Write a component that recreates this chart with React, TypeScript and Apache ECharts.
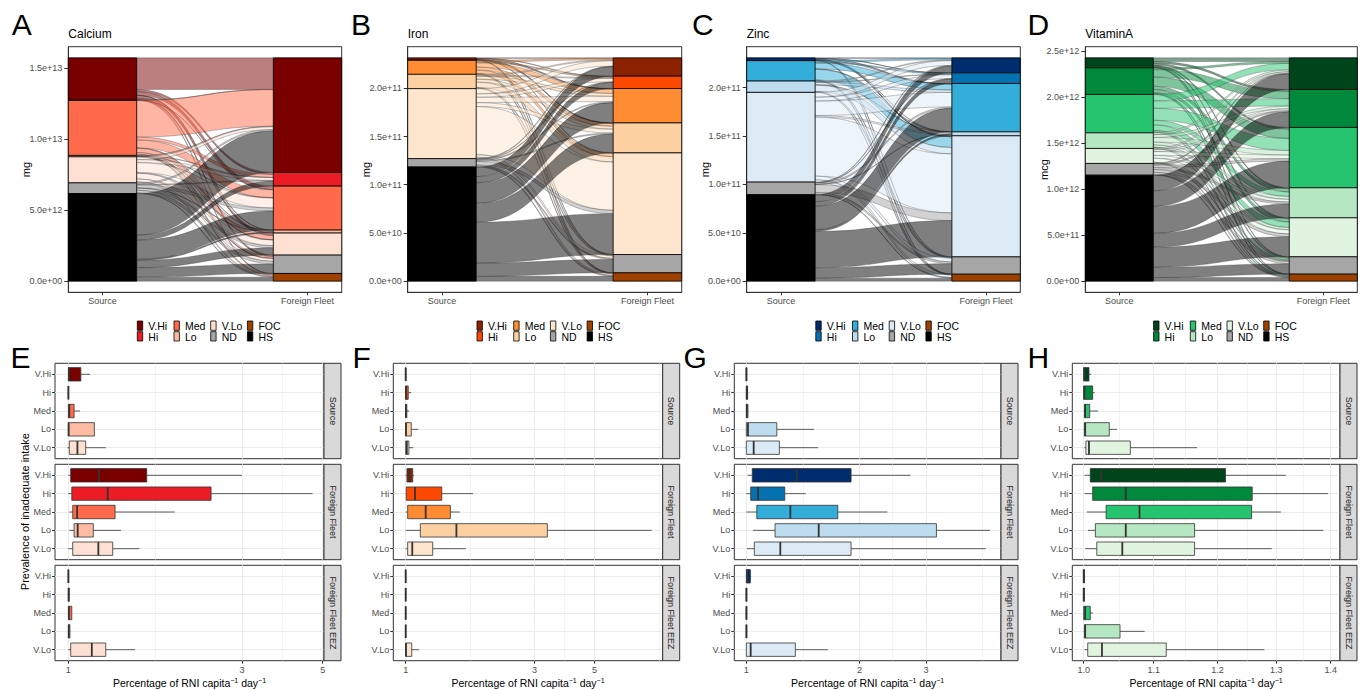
import React, { useEffect, useRef } from 'react';
import * as echarts from 'echarts';

// ---------- categories / labels ----------
const nutrients = ['Calcium', 'Iron', 'Zinc', 'VitaminA'];
const unitLabels = ['mg', 'mg', 'mg', 'mcg'];
const topLetters = ['A', 'B', 'C', 'D'];
const bottomLetters = ['E', 'F', 'G', 'H'];
const strataAxis = ['Source', 'Foreign Fleet'];
const sourceStrata = ['V.Hi', 'Hi', 'Med', 'Lo', 'V.Lo', 'ND', 'HS'];
const fleetStrata = ['V.Hi', 'Hi', 'Med', 'Lo', 'V.Lo', 'ND', 'FOC'];
const legendColumns = [['V.Hi', 'Hi'], ['Med', 'Lo'], ['V.Lo', 'ND'], ['FOC', 'HS']];
const facets = ['Source', 'Foreign Fleet', 'Foreign Fleet EEZ'];
const intakeRows = ['V.Hi', 'Hi', 'Med', 'Lo', 'V.Lo'];

// ---------- colours ----------
const calciumColors = { 'V.Hi': '#7A0000', Hi: '#EC1C24', Med: '#FF6B4A', Lo: '#FDBBA1', 'V.Lo': '#FEE0D2' };
const ironColors = { 'V.Hi': '#8C2300', Hi: '#FF4800', Med: '#FF8C33', Lo: '#FDD0A2', 'V.Lo': '#FEE6CE' };
const zincColors = { 'V.Hi': '#002D6E', Hi: '#0571B0', Med: '#33AED8', Lo: '#BDDCF0', 'V.Lo': '#DCEAF6' };
const vitaminAColors = { 'V.Hi': '#00441B', Hi: '#00893C', Med: '#26C46F', Lo: '#B5E8C2', 'V.Lo': '#E0F4E0' };
const sharedColors = { ND: '#A6A6A6', FOC: '#9E4100', HS: '#000000' };

// ---------- alluvial flows (rows: source stratum V.Hi..HS, cols: fleet stratum V.Hi..FOC) ----------
const calciumUnit = 1e12;
const calciumFlows = [
  [2.22, 0.15, 0.25, 0.02, 0.18, 0.1, 0.05],
  [0.01, 0, 0.01, 0, 0, 0, 0],
  [2.58, 0.2, 0.55, 0.03, 0.3, 0.13, 0.08],
  [0.03, 0.01, 0.03, 0.01, 0.01, 0.01, 0],
  [0.2, 0.2, 0.7, 0.05, 0.4, 0.2, 0.08],
  [0.1, 0.05, 0.2, 0.02, 0.15, 0.18, 0.05],
  [2.92, 0.35, 1.35, 0.08, 0.51, 0.67, 0.28],
];
const ironUnit = 1e10;
const ironFlows = [
  [0.05, 0.03, 0.05, 0.04, 0.05, 0.01, 0.01],
  [0, 0, 0.01, 0.01, 0, 0, 0],
  [0.15, 0.1, 0.45, 0.3, 0.35, 0.05, 0.05],
  [0.1, 0.1, 0.3, 0.3, 0.55, 0.08, 0.05],
  [0.55, 0.35, 0.55, 0.4, 5.0, 0.26, 0.15],
  [0.05, 0.05, 0.1, 0.1, 0.35, 0.12, 0.1],
  [1.0, 0.65, 2.11, 1.96, 4.24, 1.38, 0.5],
];
const zincUnit = 1e10;
const zincFlows = [
  [0.05, 0.03, 0.06, 0.01, 0.1, 0.01, 0.01],
  [0, 0, 0.01, 0, 0.01, 0, 0],
  [0.15, 0.1, 0.6, 0.03, 1.1, 0.08, 0.05],
  [0.08, 0.06, 0.25, 0.02, 0.66, 0.06, 0.04],
  [0.5, 0.4, 1.5, 0.15, 6.1, 0.38, 0.25],
  [0.05, 0.04, 0.15, 0.02, 0.8, 0.18, 0.06],
  [0.72, 0.47, 2.43, 0.18, 3.75, 1.08, 0.31],
];
const vitaminAUnit = 1e11;
const vitaminAFlows = [
  [0.4, 0.2, 0.2, 0.1, 0.1, 0.05, 0.03],
  [0.2, 0.8, 1.0, 0.35, 0.35, 0.12, 0.07],
  [0.7, 0.8, 1.3, 0.5, 0.6, 0.17, 0.1],
  [0.2, 0.3, 0.5, 0.3, 0.25, 0.09, 0.05],
  [0.15, 0.2, 0.4, 0.3, 0.45, 0.08, 0.05],
  [0.08, 0.12, 0.25, 0.2, 0.3, 0.25, 0.07],
  [1.7, 1.7, 2.9, 1.51, 2.18, 1.12, 0.39],
];

// ---------- alluvial y ticks ----------
const calciumYTicks = [0, 5e12, 1e13, 1.5e13];
const ironYTicks = [0, 5e10, 1e11, 1.5e11, 2e11];
const zincYTicks = [0, 5e10, 1e11, 1.5e11, 2e11];
const vitaminAYTicks = [0, 5e11, 1e12, 1.5e12, 2e12, 2.5e12];

// ---------- boxplots [min, q1, median, q3, max], rows V.Hi..V.Lo ----------
const calciumSourceBox = [
  [1.0, 1.0, 1.004, 1.082, 1.147],
  [1.0, 1.0, 1.0, 1.002, 1.004],
  [1.0, 1.0, 1.006, 1.037, 1.077],
  [1.0, 1.0, 1.002, 1.179, 1.179],
  [0.995, 1.006, 1.059, 1.116, 1.267],
];
const calciumFleetBox = [
  [1.0, 1.015, 1.214, 1.642, 3.0],
  [1.0, 1.022, 1.283, 2.467, 4.69],
  [1.006, 1.028, 1.057, 1.344, 1.96],
  [1.006, 1.037, 1.061, 1.171, 1.395],
  [1.0, 1.028, 1.209, 1.324, 1.567],
];
const calciumEezBox = [
  [1.0, 1.0, 1.0, 1.002, 1.003],
  [1.0, 1.0, 1.002, 1.005, 1.008],
  [1.0, 1.0, 1.004, 1.022, 1.022],
  [1.0, 1.0, 1.003, 1.01, 1.012],
  [1.0, 1.015, 1.16, 1.267, 1.525],
];
const ironSourceBox = [
  [1.0, 1.0, 1.0, 1.002, 1.004],
  [1.0, 1.0, 1.003, 1.022, 1.049],
  [1.0, 1.0, 1.002, 1.01, 1.03],
  [1.0, 1.0, 1.003, 1.049, 1.114],
  [1.0, 1.0, 1.01, 1.028, 1.067],
];
const ironFleetBox = [
  [1.0, 1.011, 1.031, 1.062, 1.073],
  [1.0, 1.005, 1.083, 1.36, 1.776],
  [1.0, 1.017, 1.186, 1.464, 1.586],
  [1.0, 1.133, 1.541, 3.345, 8.14],
  [1.0, 1.017, 1.058, 1.259, 1.67],
];
const ironEezBox = [
  [1.0, 1.0, 1.0, 1.001, 1.004],
  [1.0, 1.0, 1.0, 1.001, 1.004],
  [1.0, 1.0, 1.0, 1.001, 1.004],
  [1.0, 1.0, 1.0, 1.001, 1.004],
  [1.0, 1.0, 1.003, 1.053, 1.12],
];
const zincSourceBox = [
  [1.0, 1.0, 1.0, 1.003, 1.005],
  [1.0, 1.0, 1.003, 1.008, 1.012],
  [1.0, 1.0, 1.003, 1.01, 1.012],
  [1.0, 1.0, 1.01, 1.205, 1.513],
  [0.996, 1.0, 1.046, 1.224, 1.551],
];
const zincFleetBox = [
  [1.008, 1.037, 1.361, 1.898, 2.73],
  [1.0, 1.027, 1.074, 1.265, 1.438],
  [1.0, 1.066, 1.309, 1.75, 2.37],
  [1.042, 1.192, 1.557, 3.2, 4.44],
  [1.004, 1.05, 1.231, 1.898, 4.33],
];
const zincEezBox = [
  [1.0, 1.0, 1.005, 1.025, 1.03],
  [1.0, 1.0, 1.0, 1.003, 1.005],
  [1.0, 1.0, 1.0, 1.003, 1.005],
  [1.0, 1.0, 1.0, 1.003, 1.005],
  [1.0, 1.0, 1.027, 1.35, 1.645],
];
const vitaminASourceBox = [
  [1.0, 1.0, 1.001, 1.0072, 1.0104],
  [1.0, 1.0, 1.001, 1.0123, 1.015],
  [1.0, 1.001, 1.002, 1.0082, 1.0197],
  [1.0, 1.001, 1.002, 1.0355, 1.0464],
  [1.001, 1.003, 1.0072, 1.0656, 1.167],
];
const vitaminAFleetBox = [
  [1.001, 1.009, 1.024, 1.213, 1.317],
  [1.001, 1.0123, 1.059, 1.258, 1.395],
  [1.0045, 1.031, 1.079, 1.257, 1.308],
  [1.0059, 1.016, 1.059, 1.163, 1.386],
  [1.002, 1.018, 1.054, 1.163, 1.292],
];
const vitaminAEezBox = [
  [1.0, 1.0, 1.0, 1.001, 1.002],
  [1.0, 1.0, 1.0, 1.001, 1.002],
  [1.0, 1.0, 1.002, 1.009, 1.0127],
  [1.0, 1.001, 1.002, 1.0507, 1.0866],
  [1.001, 1.0055, 1.0252, 1.119, 1.279],
];

// ---------- boxplot x axes (log scale) ----------
const calciumXTicks = [1, 3, 5];
const calciumXMinor = [1.732, 3.873];
const calciumXRange = [0.919, 5.041];
const ironXTicks = [1, 3, 5];
const ironXMinor = [1.732, 3.873, 8.66];
const ironXRange = [0.9, 8.94];
const zincXTicks = [1, 2, 3];
const zincXMinor = [1.414, 2.449, 4.243];
const zincXRange = [0.929, 4.75];
const vitaminAXTicks = [1.0, 1.1, 1.2, 1.3, 1.4];
const vitaminAXMinor = [1.049, 1.149, 1.249, 1.349];
const vitaminAXRange = [0.9846, 1.4178];

const panels = [
  { colors: calciumColors, flows: calciumFlows, unit: calciumUnit, yTicks: calciumYTicks, boxes: [calciumSourceBox, calciumFleetBox, calciumEezBox], xTicks: calciumXTicks, xMinor: calciumXMinor, xRange: calciumXRange, dec: 0 },
  { colors: ironColors, flows: ironFlows, unit: ironUnit, yTicks: ironYTicks, boxes: [ironSourceBox, ironFleetBox, ironEezBox], xTicks: ironXTicks, xMinor: ironXMinor, xRange: ironXRange, dec: 0 },
  { colors: zincColors, flows: zincFlows, unit: zincUnit, yTicks: zincYTicks, boxes: [zincSourceBox, zincFleetBox, zincEezBox], xTicks: zincXTicks, xMinor: zincXMinor, xRange: zincXRange, dec: 0 },
  { colors: vitaminAColors, flows: vitaminAFlows, unit: vitaminAUnit, yTicks: vitaminAYTicks, boxes: [vitaminASourceBox, vitaminAFleetBox, vitaminAEezBox], xTicks: vitaminAXTicks, xMinor: vitaminAXMinor, xRange: vitaminAXRange, dec: 1 },
];

// ---------- layout ----------
const FONT = "'Liberation Sans', Arial, Helvetica, sans-serif";
const NARROW = "'Liberation Sans Narrow', 'Liberation Sans', Arial, sans-serif";
const topGridBoxes = [
  { left: 68.3, width: 273.4 },
  { left: 407.7, width: 274 },
  { left: 746.7, width: 273.6 },
  { left: 1085.3, width: 272 },
];
const TOP_Y = 46.7;
const TOP_H = 245.6;
const STRATUM_W = 1 / 3;
const bottomGridBoxes = [
  { left: 55, width: 269 },
  { left: 393.3, width: 269.4 },
  { left: 734.3, width: 266.7 },
  { left: 1072.3, width: 267.7 },
];
const rowTops = [363.3, 464.3, 565.3];
const ROW_H = 95.4;
const STRIP_W = 17;

function colorOf(pal: Record<string, string>, key: string) {
  return pal[key] || (sharedColors as Record<string, string>)[key];
}

function sci(v: number) {
  const [m, e] = v.toExponential(1).split('e');
  const n = parseInt(e, 10);
  return m + 'e' + (n < 0 ? '-' : '+') + String(Math.abs(n)).padStart(2, '0');
}

function buildAlluvium(flows: number[][], unit: number) {
  const S = flows.map((r) => r.reduce((a, b) => a + b, 0) * unit);
  const D = fleetStrata.map((_, j) => flows.reduce((a, r) => a + r[j], 0) * unit);
  const total = S.reduce((a, b) => a + b, 0);
  const strata: { value: number[]; key: string }[] = [];
  const srcTop: number[] = [];
  const dstTop: number[] = [];
  let cur = total;
  sourceStrata.forEach((s, i) => {
    strata.push({ value: [1, cur - S[i], cur], key: s });
    srcTop[i] = cur;
    cur -= S[i];
  });
  cur = total;
  fleetStrata.forEach((d, j) => {
    strata.push({ value: [2, cur - D[j], cur], key: d });
    dstTop[j] = cur;
    cur -= D[j];
  });
  const srcPos: number[][][] = flows.map(() => []);
  const dstPos: number[][][] = flows.map(() => []);
  flows.forEach((row, i) => {
    let c = srcTop[i];
    row.forEach((v, j) => {
      srcPos[i][j] = [c, c - v * unit];
      c -= v * unit;
    });
  });
  fleetStrata.forEach((_, j) => {
    let c = dstTop[j];
    flows.forEach((row, i) => {
      dstPos[i][j] = [c, c - row[j] * unit];
      c -= row[j] * unit;
    });
  });
  const flowItems: { value: number[]; key: string }[] = [];
  flows.forEach((row, i) => {
    row.forEach((v, j) => {
      if (v > 0) {
        flowItems.push({
          value: [1, srcPos[i][j][0], srcPos[i][j][1], dstPos[i][j][0], dstPos[i][j][1]],
          key: sourceStrata[i],
        });
      }
    });
  });
  return { strata, flowItems, total };
}

function buildOption() {
  const grid: any[] = [];
  const xAxis: any[] = [];
  const yAxis: any[] = [];
  const series: any[] = [];
  const graphic: any[] = [];

  // ---------- top alluvial panels ----------
  panels.forEach((p, i) => {
    const g = topGridBoxes[i];
    const { strata, flowItems, total } = buildAlluvium(p.flows, p.unit);
    grid.push({ left: g.left, top: TOP_Y, width: g.width, height: TOP_H, show: true, borderColor: '#333', borderWidth: 1, backgroundColor: '#fff', containLabel: false, outerBoundsMode: 'none' });
    xAxis.push({
      type: 'value', gridIndex: i, min: 1 - STRATUM_W / 2, max: 2 + STRATUM_W / 2,
      axisLine: { show: true, onZero: false, lineStyle: { color: '#333', width: 1 } },
      axisTick: { show: true, length: 3, customValues: [1, 2], lineStyle: { color: '#333' } },
      axisLabel: { customValues: [1, 2], formatter: (v: number) => strataAxis[Math.round(v) - 1], fontSize: 9, color: '#4D4D4D', margin: 4, fontFamily: FONT },
      splitLine: { show: false },
    });
    yAxis.push({
      type: 'value', gridIndex: i, min: -0.05 * total, max: 1.05 * total,
      axisLine: { show: true, onZero: false, lineStyle: { color: '#333' } },
      axisTick: { show: true, length: 4, customValues: p.yTicks, lineStyle: { color: '#333' } },
      axisLabel: { customValues: p.yTicks, formatter: (v: number) => sci(v), fontSize: 9, color: '#4D4D4D', margin: 6, fontFamily: FONT },
      splitLine: { show: false },
    });
    series.push({
      type: 'custom', xAxisIndex: i, yAxisIndex: i, silent: true, z: 2,
      data: flowItems.map((f) => f.value),
      encode: { x: 0, y: [1, 2, 3, 4] },
      renderItem: (params: any, api: any) => {
        const a0 = api.coord([1, api.value(1)]);
        const a1 = api.coord([1, api.value(2)]);
        const b0 = api.coord([2, api.value(3)]);
        const b1 = api.coord([2, api.value(4)]);
        const half = api.size([STRATUM_W, 0])[0] / 2;
        const xs = a0[0] + half;
        const xd = b0[0] - half;
        const xm = (xs + xd) / 2;
        const d = `M${xs},${a0[1]} C${xm},${a0[1]} ${xm},${b0[1]} ${xd},${b0[1]} L${xd},${b1[1]} C${xm},${b1[1]} ${xm},${a1[1]} ${xs},${a1[1]} Z`;
        return {
          type: 'path',
          shape: { pathData: d },
          style: { fill: colorOf(p.colors, flowItems[params.dataIndex].key), opacity: 0.5, stroke: '#333', lineWidth: 0.6 },
        };
      },
    });
    series.push({
      type: 'custom', xAxisIndex: i, yAxisIndex: i, silent: true, z: 3,
      data: strata.map((s) => s.value),
      encode: { x: 0, y: [1, 2] },
      renderItem: (params: any, api: any) => {
        const xi = api.value(0);
        const p0 = api.coord([xi, api.value(1)]);
        const p1 = api.coord([xi, api.value(2)]);
        const bw = api.size([STRATUM_W, 0])[0];
        return {
          type: 'rect',
          shape: { x: p0[0] - bw / 2, y: p1[1], width: bw, height: p0[1] - p1[1] },
          style: { fill: colorOf(p.colors, strata[params.dataIndex].key), stroke: '#000', lineWidth: 0.8 },
        };
      },
    });

    // letters, titles, y title
    const letterX = [11.7, 351, 692, 1027.6][i];
    graphic.push({ type: 'text', x: letterX, y: 24.2, z: 100, style: { text: topLetters[i], fontSize: 30, fontFamily: FONT, fill: '#000', align: 'left', verticalAlign: 'middle' } });
    graphic.push({ type: 'text', x: g.left, y: 34, z: 100, style: { text: nutrients[i], fontSize: 12, fontFamily: FONT, fill: '#000', align: 'left', verticalAlign: 'middle' } });
    const yTitleX = [26, 366, 705, 1044][i];
    graphic.push({ type: 'text', x: yTitleX, y: TOP_Y + TOP_H / 2, rotation: Math.PI / 2, z: 100, style: { text: unitLabels[i], fontSize: 11, fontFamily: FONT, fill: '#000', align: 'center', verticalAlign: 'middle' } });

    // legend
    const center = g.left + g.width / 2;
    legendColumns.forEach((col, c) => {
      col.forEach((key, r) => {
        const sx = center - 67.7 + c * 36.7;
        const sy = 321 + r * 10.7;
        graphic.push({ type: 'rect', z: 100, shape: { x: sx, y: sy, width: 5.4, height: 9.3 }, style: { fill: colorOf(p.colors, key), stroke: '#000', lineWidth: 0.8 } });
        graphic.push({ type: 'text', z: 100, x: sx + 11, y: sy + 4.9, style: { text: key, fontSize: 10.5, fontFamily: NARROW, fill: '#000', align: 'left', verticalAlign: 'middle' } });
      });
    });
  });

  // ---------- bottom boxplot panels ----------
  panels.forEach((p, c) => {
    const g = bottomGridBoxes[c];
    const fmt = (v: number) => (p.dec ? v.toFixed(p.dec) : String(Math.round(v * 1000) / 1000));
    facets.forEach((facet, r) => {
      const gi = grid.length;
      grid.push({ left: g.left, top: rowTops[r], width: g.width, height: ROW_H, show: true, borderColor: '#333', borderWidth: 1, backgroundColor: '#fff', containLabel: false, outerBoundsMode: 'none' });
      const xi = xAxis.length;
      xAxis.push({
        type: 'log', logBase: 10, gridIndex: gi, min: p.xRange[0], max: p.xRange[1],
        axisLine: { show: false, onZero: false },
        axisTick: { show: r === 2, length: 3, customValues: p.xTicks, lineStyle: { color: '#333' } },
        axisLabel: { show: r === 2, customValues: p.xTicks, formatter: fmt, fontSize: 9, color: '#4D4D4D', margin: 5, fontFamily: FONT },
        splitLine: { show: true, lineStyle: { color: '#EBEBEB', width: 1 } },
      });
      xAxis.push({
        type: 'log', logBase: 10, gridIndex: gi, min: p.xRange[0], max: p.xRange[1],
        axisLine: { show: false, onZero: false },
        axisTick: { show: false, customValues: p.xMinor },
        axisLabel: { show: false, customValues: p.xMinor },
        splitLine: { show: true, lineStyle: { color: '#EBEBEB', width: 0.6 } },
      });
      const yi = yAxis.length;
      yAxis.push({
        type: 'value', gridIndex: gi, min: -0.6, max: 4.6, inverse: true,
        axisLine: { show: false, onZero: false },
        axisTick: { show: true, length: 3, customValues: [0, 1, 2, 3, 4], lineStyle: { color: '#333' } },
        axisLabel: { customValues: [0, 1, 2, 3, 4], formatter: (v: number) => intakeRows[Math.round(v)], fontSize: 9, color: '#4D4D4D', margin: 4, fontFamily: FONT },
        splitLine: { show: true, lineStyle: { color: '#EBEBEB', width: 1 } },
      });
      const rows = p.boxes[r];
      series.push({
        type: 'custom', xAxisIndex: xi, yAxisIndex: yi, silent: true, z: 3,
        data: rows.map((b, k) => [k, ...b]),
        encode: { y: 0, x: [1, 2, 3, 4, 5] },
        renderItem: (params: any, api: any) => {
          const k = api.value(0);
          const vals = [1, 2, 3, 4, 5].map((d) => api.value(d));
          const xs = vals.map((v) => api.coord([v, k])[0]);
          const yc = api.coord([vals[2], k])[1];
          const ya = api.coord([vals[2], k - 0.365])[1];
          const yb = api.coord([vals[2], k + 0.365])[1];
          const top = Math.min(ya, yb);
          const h = Math.abs(yb - ya);
          const col = colorOf(p.colors, intakeRows[params.dataIndex]);
          return {
            type: 'group',
            children: [
              { type: 'line', shape: { x1: xs[0], y1: yc, x2: xs[1], y2: yc }, style: { stroke: '#333', lineWidth: 0.8 } },
              { type: 'line', shape: { x1: xs[3], y1: yc, x2: xs[4], y2: yc }, style: { stroke: '#333', lineWidth: 0.8 } },
              { type: 'rect', shape: { x: xs[1], y: top, width: Math.max(xs[3] - xs[1], 0.01), height: h }, style: { fill: col, stroke: '#333', lineWidth: 0.8 } },
              { type: 'line', shape: { x1: xs[2], y1: top, x2: xs[2], y2: top + h }, style: { stroke: '#333', lineWidth: 1.8 } },
            ],
          };
        },
      });
      // facet strip
      const sx = g.left + g.width;
      graphic.push({ type: 'rect', z: 100, shape: { x: sx, y: rowTops[r], width: STRIP_W, height: ROW_H }, style: { fill: '#D9D9D9', stroke: '#333', lineWidth: 1 } });
      graphic.push({ type: 'text', z: 101, x: sx + STRIP_W / 2, y: rowTops[r] + ROW_H / 2, rotation: -Math.PI / 2, style: { text: facet, fontSize: 9, fontFamily: FONT, fill: '#1A1A1A', align: 'center', verticalAlign: 'middle' } });
    });
    const letterX = [10.6, 352.6, 683.5, 1027.6][c];
    graphic.push({ type: 'text', x: letterX, y: 357.5, z: 100, style: { text: bottomLetters[c], fontSize: 30, fontFamily: FONT, fill: '#000', align: 'left', verticalAlign: 'middle' } });
    graphic.push({
      type: 'text', z: 100, x: g.left + g.width / 2, y: 682.7,
      style: {
        text: '{a|Percentage of RNI capita}{s|\u22121}{a| day}{s|\u22121}',
        rich: {
          a: { fontSize: 10.5, fontFamily: FONT, fill: '#000', color: '#000', lineHeight: 12 },
          s: { fontSize: 7, fontFamily: FONT, fill: '#000', color: '#000', lineHeight: 12, verticalAlign: 'top' },
        },
        align: 'center', verticalAlign: 'middle',
      },
    });
  });
  graphic.push({ type: 'text', x: 25, y: 511.6, rotation: Math.PI / 2, z: 100, style: { text: 'Prevalence of inadequate intake', fontSize: 11, fontFamily: FONT, fill: '#000', align: 'center', verticalAlign: 'middle' } });

  return {
    animation: false,
    backgroundColor: '#ffffff',
    textStyle: { fontFamily: FONT },
    grid, xAxis, yAxis, series, graphic,
  };
}

export default function App() {
  const ref = useRef<HTMLDivElement>(null);
  useEffect(() => {
    document.body.style.margin = '0';
    const chart = echarts.init(ref.current as HTMLDivElement, null, { renderer: 'svg' });
    chart.setOption(buildOption() as any);
    return () => chart.dispose();
  }, []);
  return <div ref={ref} style={{ width: 1366, height: 690, position: 'absolute', left: 0, top: 0 }} />;
}
